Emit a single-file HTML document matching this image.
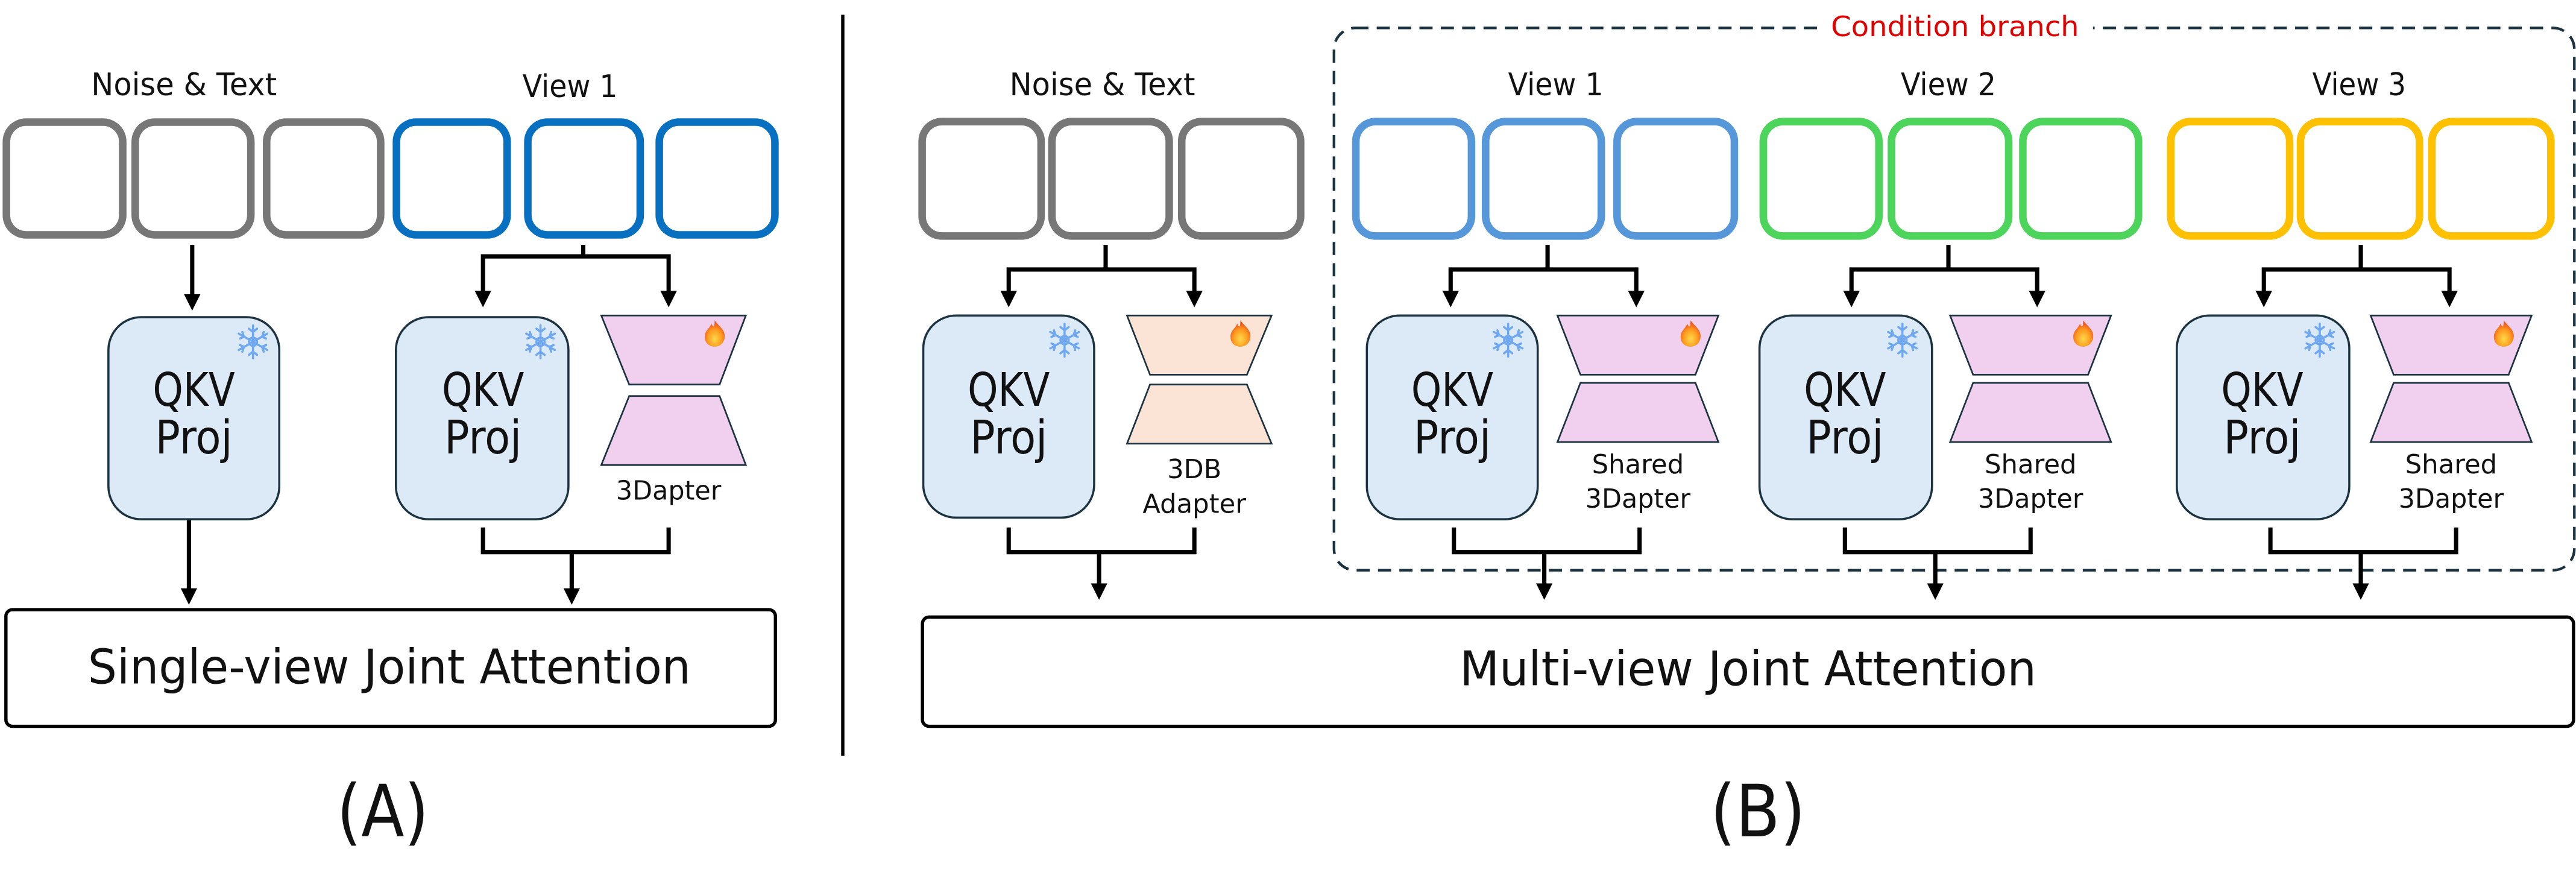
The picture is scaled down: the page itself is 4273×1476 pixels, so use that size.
<!DOCTYPE html>
<html><head><meta charset="utf-8"><style>
html,body{margin:0;padding:0;background:#fff;}
svg{display:block;}
text{font-family:"DejaVu Sans","Liberation Sans",sans-serif;fill:#111;}
</style></head><body>
<svg width="4273" height="1476" viewBox="0 0 1568 541.6" xmlns="http://www.w3.org/2000/svg">
<defs>
<g id="snow" stroke="#6fa8f0" stroke-width="1.3" fill="none" stroke-linecap="round">
<line x1="0" y1="-10" x2="0" y2="10"/><line x1="-8.7" y1="-5" x2="8.7" y2="5"/><line x1="-8.7" y1="5" x2="8.7" y2="-5"/>
<path d="M-2.5,-8 L0,-6 L2.5,-8 M-2.5,8 L0,6 L2.5,8 M-8,-2 L-5.5,-3 L-6.5,-6 M8,2 L5.5,3 L6.5,6 M-8,2 L-5.5,3 L-6.5,6 M8,-2 L5.5,-3 L6.5,-6"/>
<circle r="2.5"/>
</g>
<radialGradient id="fg" cx="0.5" cy="0.7" r="0.6"><stop offset="0" stop-color="#ffd84a"/><stop offset="0.6" stop-color="#ff9a1f"/><stop offset="1" stop-color="#f2531c"/></radialGradient>
<g id="flame"><path d="M0,-8 C3,-4 7,-2 6,3 C5,7 2,8 0,8 C-3,8 -6,6 -6,2 C-6,-2 -3,-3 -2,-6 C-1,-4 0,-3 0,-8 Z" fill="url(#fg)"/></g>
<g id="ah"><polygon points="-5,-10 5,-10 0,0" fill="#000"/></g>
</defs>

<!-- ===== Panel A ===== -->
<text x="112" y="58" font-size="19" text-anchor="middle" textLength="113" lengthAdjust="spacingAndGlyphs">Noise &amp; Text</text>
<text x="347" y="59" font-size="19" text-anchor="middle" textLength="58" lengthAdjust="spacingAndGlyphs">View 1</text>
<g fill="none" stroke-width="4.6">
<g stroke="#777"><rect x="3.9" y="74.3" width="70.8" height="68.6" rx="12"/><rect x="82.3" y="74.3" width="70.4" height="68.6" rx="12"/><rect x="162.3" y="74.3" width="69.4" height="68.6" rx="12"/></g>
<g stroke="#0870c0"><rect x="241.3" y="74.3" width="67.4" height="68.6" rx="12"/><rect x="321.3" y="74.3" width="68.4" height="68.6" rx="12"/><rect x="401.3" y="74.3" width="70.4" height="68.6" rx="12"/></g>
</g>
<g stroke="#000" stroke-width="2.6" fill="none">
<line x1="117" y1="149" x2="117" y2="180"/>
<line x1="115" y1="316" x2="115" y2="359"/>
<polyline points="355,149 355,156"/><polyline points="294,180 294,156 407,156 407,180"/>
<polyline points="294,321 294,336 407,336 407,321"/><line x1="348" y1="336" x2="348" y2="360"/>
</g>
<use href="#ah" x="117" y="189"/><use href="#ah" x="115" y="368"/>
<use href="#ah" x="294" y="187"/><use href="#ah" x="407" y="187"/><use href="#ah" x="348" y="368"/>
<rect x="66" y="193" width="104" height="123" rx="20" fill="#dce9f7" stroke="#1b3340" stroke-width="1.3"/>
<text x="118" y="247" font-size="28" text-anchor="middle" textLength="50" lengthAdjust="spacingAndGlyphs">QKV</text>
<text x="118" y="276" font-size="28" text-anchor="middle" textLength="47" lengthAdjust="spacingAndGlyphs">Proj</text>
<use href="#snow" x="154" y="208"/>
<rect x="241" y="193" width="105" height="123" rx="20" fill="#dce9f7" stroke="#1b3340" stroke-width="1.3"/>
<text x="294" y="247" font-size="28" text-anchor="middle" textLength="50" lengthAdjust="spacingAndGlyphs">QKV</text>
<text x="294" y="276" font-size="28" text-anchor="middle" textLength="47" lengthAdjust="spacingAndGlyphs">Proj</text>
<use href="#snow" x="329" y="208"/>
<polygon points="366,192 454,192 438,234 383,234" fill="#f0d0ee" stroke="#1b3340" stroke-width="1"/>
<polygon points="383,241 438,241 454,283 366,283" fill="#f0d0ee" stroke="#1b3340" stroke-width="1"/>
<use href="#flame" x="435" y="203"/>
<text x="407" y="304" font-size="16" text-anchor="middle" textLength="64" lengthAdjust="spacingAndGlyphs">3Dapter</text>
<rect x="3.6" y="371" width="468.4" height="71" rx="4" fill="none" stroke="#000" stroke-width="2"/>
<text x="237" y="416" font-size="29" text-anchor="middle" textLength="367" lengthAdjust="spacingAndGlyphs">Single-view Joint Attention</text>
<text x="233" y="509" font-size="44" text-anchor="middle" textLength="56" lengthAdjust="spacingAndGlyphs">(A)</text>

<line x1="513" y1="9" x2="513" y2="460" stroke="#000" stroke-width="2"/>

<!-- ===== Panel B ===== -->
<rect x="812" y="17" width="755" height="330" rx="13" fill="none" stroke="#1b3340" stroke-width="1.6" stroke-dasharray="8,5"/>
<rect x="1108" y="6" width="166" height="22" fill="#fff"/>
<text x="1190" y="22" font-size="17" text-anchor="middle" fill="#e00000" style="fill:#e00000" textLength="151" lengthAdjust="spacingAndGlyphs">Condition branch</text>

<text x="671" y="58" font-size="19" text-anchor="middle" textLength="113" lengthAdjust="spacingAndGlyphs">Noise &amp; Text</text>
<text x="947" y="58" font-size="19" text-anchor="middle" textLength="58" lengthAdjust="spacingAndGlyphs">View 1</text>
<text x="1186" y="58" font-size="19" text-anchor="middle" textLength="58" lengthAdjust="spacingAndGlyphs">View 2</text>
<text x="1436" y="58" font-size="19" text-anchor="middle" textLength="57" lengthAdjust="spacingAndGlyphs">View 3</text>

<g fill="none" stroke-width="4.6">
<g stroke="#777"><rect x="561.3" y="74" width="72.4" height="69.6" rx="12"/><rect x="640.3" y="74" width="71.4" height="69.6" rx="12"/><rect x="719.3" y="74" width="72.4" height="69.6" rx="12"/></g>
<g stroke="#5597d8"><rect x="825.3" y="74" width="70.4" height="69.6" rx="12"/><rect x="904.3" y="74" width="70.4" height="69.6" rx="12"/><rect x="984.3" y="74" width="71.4" height="69.6" rx="12"/></g>
<g stroke="#4cd45b"><rect x="1073.3" y="74" width="70.4" height="69.6" rx="12"/><rect x="1151.3" y="74" width="71.4" height="69.6" rx="12"/><rect x="1231.3" y="74" width="70.4" height="69.6" rx="12"/></g>
<g stroke="#ffc000"><rect x="1321.3" y="74" width="72.4" height="69.6" rx="12"/><rect x="1400.3" y="74" width="72.4" height="69.6" rx="12"/><rect x="1480.3" y="74" width="72.4" height="69.6" rx="12"/></g>
</g>

<g stroke="#000" stroke-width="2.6" fill="none">
<line x1="673" y1="149" x2="673" y2="164"/><polyline points="614,178 614,164 727,164 727,178"/>
<line x1="942" y1="149" x2="942" y2="164"/><polyline points="883,178 883,164 996,164 996,178"/>
<line x1="1186" y1="149" x2="1186" y2="164"/><polyline points="1127,178 1127,164 1240,164 1240,178"/>
<line x1="1437" y1="149" x2="1437" y2="164"/><polyline points="1378,178 1378,164 1491,164 1491,178"/>
<polyline points="614,321 614,336 727,336 727,321"/><line x1="669" y1="336" x2="669" y2="356"/>
<polyline points="885,321 885,336 998,336 998,321"/><line x1="940" y1="336" x2="940" y2="356"/>
<polyline points="1123,321 1123,336 1236,336 1236,321"/><line x1="1178" y1="336" x2="1178" y2="356"/>
<polyline points="1382,321 1382,336 1495,336 1495,321"/><line x1="1437" y1="336" x2="1437" y2="356"/>
</g>
<use href="#ah" x="614" y="187"/><use href="#ah" x="727" y="187"/>
<use href="#ah" x="883" y="187"/><use href="#ah" x="996" y="187"/>
<use href="#ah" x="1127" y="187"/><use href="#ah" x="1240" y="187"/>
<use href="#ah" x="1378" y="187"/><use href="#ah" x="1491" y="187"/>
<use href="#ah" x="669" y="365"/><use href="#ah" x="940" y="365"/><use href="#ah" x="1178" y="365"/><use href="#ah" x="1437" y="365"/>

<!-- noise group -->
<rect x="562" y="192" width="104" height="123" rx="20" fill="#dce9f7" stroke="#1b3340" stroke-width="1.3"/>
<text x="614" y="247" font-size="28" text-anchor="middle" textLength="50" lengthAdjust="spacingAndGlyphs">QKV</text>
<text x="614" y="276" font-size="28" text-anchor="middle" textLength="47" lengthAdjust="spacingAndGlyphs">Proj</text>
<use href="#snow" x="648" y="207"/>
<polygon points="686,192 774,192 759,228 700,228" fill="#fbe4d6" stroke="#1b3340" stroke-width="1"/>
<polygon points="700,234 759,234 774,270 686,270" fill="#fbe4d6" stroke="#1b3340" stroke-width="1"/>
<use href="#flame" x="755" y="203"/>
<text x="727" y="291" font-size="16" text-anchor="middle" textLength="33" lengthAdjust="spacingAndGlyphs">3DB</text>
<text x="727" y="312" font-size="16" text-anchor="middle" textLength="63" lengthAdjust="spacingAndGlyphs">Adapter</text>

<!-- view1 -->
<rect x="832" y="192" width="104" height="124" rx="20" fill="#dce9f7" stroke="#1b3340" stroke-width="1.3"/>
<text x="884" y="247" font-size="28" text-anchor="middle" textLength="50" lengthAdjust="spacingAndGlyphs">QKV</text>
<text x="884" y="276" font-size="28" text-anchor="middle" textLength="47" lengthAdjust="spacingAndGlyphs">Proj</text>
<use href="#snow" x="918" y="207"/>
<polygon points="948,192 1046,192 1032,228 962,228" fill="#f0d0ee" stroke="#1b3340" stroke-width="1"/>
<polygon points="962,233 1032,233 1046,269 948,269" fill="#f0d0ee" stroke="#1b3340" stroke-width="1"/>
<use href="#flame" x="1029" y="203"/>
<text x="997" y="288" font-size="16" text-anchor="middle" textLength="56" lengthAdjust="spacingAndGlyphs">Shared</text>
<text x="997" y="309" font-size="16" text-anchor="middle" textLength="64" lengthAdjust="spacingAndGlyphs">3Dapter</text>

<!-- view2 -->
<rect x="1071" y="192" width="105" height="124" rx="20" fill="#dce9f7" stroke="#1b3340" stroke-width="1.3"/>
<text x="1123" y="247" font-size="28" text-anchor="middle" textLength="50" lengthAdjust="spacingAndGlyphs">QKV</text>
<text x="1123" y="276" font-size="28" text-anchor="middle" textLength="47" lengthAdjust="spacingAndGlyphs">Proj</text>
<use href="#snow" x="1158" y="207"/>
<polygon points="1187,192 1285,192 1271,228 1201,228" fill="#f0d0ee" stroke="#1b3340" stroke-width="1"/>
<polygon points="1201,233 1271,233 1285,269 1187,269" fill="#f0d0ee" stroke="#1b3340" stroke-width="1"/>
<use href="#flame" x="1268" y="203"/>
<text x="1236" y="288" font-size="16" text-anchor="middle" textLength="56" lengthAdjust="spacingAndGlyphs">Shared</text>
<text x="1236" y="309" font-size="16" text-anchor="middle" textLength="64" lengthAdjust="spacingAndGlyphs">3Dapter</text>

<!-- view3 -->
<rect x="1325" y="192" width="105" height="124" rx="20" fill="#dce9f7" stroke="#1b3340" stroke-width="1.3"/>
<text x="1377" y="247" font-size="28" text-anchor="middle" textLength="50" lengthAdjust="spacingAndGlyphs">QKV</text>
<text x="1377" y="276" font-size="28" text-anchor="middle" textLength="47" lengthAdjust="spacingAndGlyphs">Proj</text>
<use href="#snow" x="1412" y="207"/>
<polygon points="1443,192 1541,192 1527,228 1457,228" fill="#f0d0ee" stroke="#1b3340" stroke-width="1"/>
<polygon points="1457,233 1527,233 1541,269 1443,269" fill="#f0d0ee" stroke="#1b3340" stroke-width="1"/>
<use href="#flame" x="1524" y="203"/>
<text x="1492" y="288" font-size="16" text-anchor="middle" textLength="56" lengthAdjust="spacingAndGlyphs">Shared</text>
<text x="1492" y="309" font-size="16" text-anchor="middle" textLength="64" lengthAdjust="spacingAndGlyphs">3Dapter</text>

<rect x="561.5" y="375.5" width="1005" height="66.5" rx="4" fill="none" stroke="#000" stroke-width="2"/>
<text x="1064" y="417" font-size="29" text-anchor="middle" textLength="351" lengthAdjust="spacingAndGlyphs">Multi-view Joint Attention</text>
<text x="1070" y="509" font-size="44" text-anchor="middle" textLength="58" lengthAdjust="spacingAndGlyphs">(B)</text>
</svg>
</body></html>
